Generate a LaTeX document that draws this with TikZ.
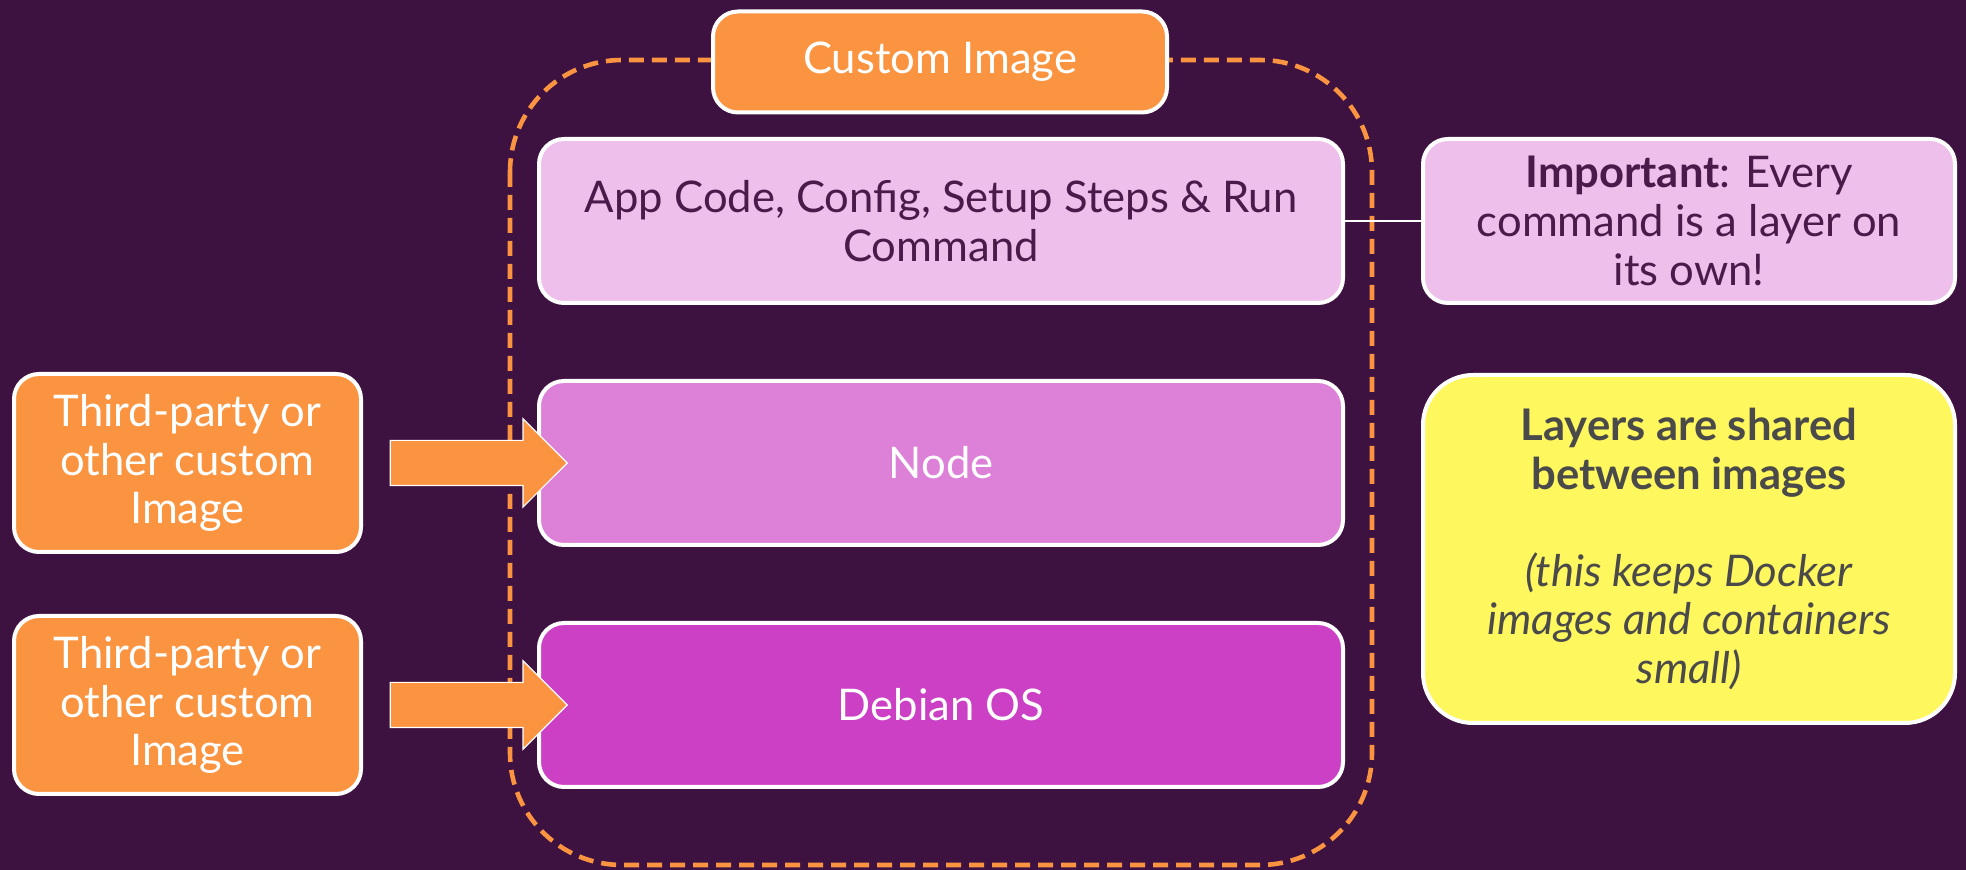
\documentclass[tikz,border=0pt]{standalone}
\usepackage{fontspec}
\setmainfont{Lato}
\usetikzlibrary{shapes.arrows}
\definecolor{fondo}{HTML}{3D1240}
\definecolor{naranja}{HTML}{FB9440}
\definecolor{rosa}{HTML}{EDBFEA}
\definecolor{malva}{HTML}{DC80D8}
\definecolor{magenta}{HTML}{CB40C4}
\definecolor{amarillo}{HTML}{FFF75E}
\definecolor{morado}{HTML}{4A1A4A}
\definecolor{gris}{HTML}{4A4A4A}

\tikzset{
  estilo capas/.style={
      x=0.5pt, y=-0.5pt,
      node distance=121pt,
      caja/.style={rectangle, rounded corners=12.5pt, draw=white, line width=2pt,
          align=center, inner sep=0pt, font={\fontsize{21.8}{24.3}\selectfont}},
      capa/.style={caja, minimum width=402pt, minimum height=82pt},
      externa/.style={caja, fill=naranja, text=white, minimum width=173.5pt, minimum height=89pt},
      nota/.style={caja, minimum width=266pt},
      marco/.style={draw=naranja, line width=2.3pt, dash pattern=on 7.5pt off 4pt, rounded corners=56pt},
      flecha/.style={single arrow, fill=naranja, draw=white, line width=0.6pt,
          minimum height=88.5pt, inner sep=11pt, single arrow head extend=10.75pt,
          single arrow tip angle=90, anchor=tip},
      enlace/.style={draw=white, line width=1.2pt},
    },
}

\begin{document}
\begin{tikzpicture}[estilo capas]
  \fill[fondo] (0,0) rectangle (1966,870);
  \useasboundingbox (0,0) rectangle (1966,870);

  % marco de la imagen
  \draw[marco] (510,60) rectangle (1372,865);
  \node[caja, fill=naranja, text=white, minimum width=227pt, minimum height=50.5pt] (imagen) at (940,62) {Custom Image};

  % capas
  \node[capa, fill=rosa, text=morado] (app) at (941,221) {App Code, Config, Setup Steps \& Run\\Command};
  \node[capa, fill=malva, text=white, below of=app] (node) {Node};
  \node[capa, fill=magenta, text=white, below of=node] (debian) {Debian OS};

  % imagenes externas
  \node[externa, left of=node, node distance=376.75pt] (ext1) {Third-party or\\other custom\\Image};
  \node[externa, left of=debian, node distance=376.75pt] (ext2) {Third-party or\\other custom\\Image};
  \node[flecha] (flecha1) at (568,463) {};
  \node[flecha] (flecha2) at (568,705) {};

  % notas
  \node[nota, fill=rosa, text=morado, minimum height=82pt, right of=app, node distance=374pt] (importante) {\textbf{Important}: Every\\command is a layer on\\its own!};
  \node[nota, fill=amarillo, text=gris, minimum height=174pt, rounded corners=25pt] (compartidas) at (1689,549) {\textbf{Layers are shared}\\\textbf{between images}\\[24pt]\textit{(this keeps Docker}\\\textit{images and containers}\\\textit{small)}};

  \draw[enlace] (app.east) -- (importante.west);
\end{tikzpicture}
\end{document}
